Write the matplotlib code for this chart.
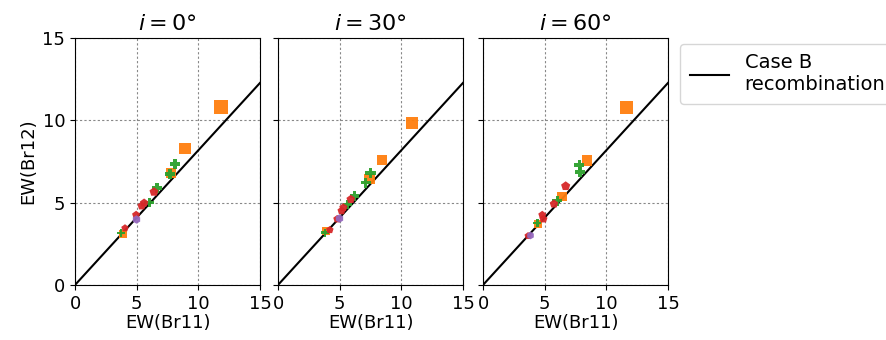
import matplotlib.pyplot as plt
import numpy as np

# EW(Br11), EW(Br12) per inclination, per marker group
incl = [0, 30, 60]

sq_x = [[11.84, 8.92, 7.79, 3.9], [10.87, 8.43, 7.42, 3.9], [11.6, 8.43, 6.4, 4.46]]
sq_y = [[10.81, 8.26, 6.80, 3.1], [9.84, 7.59, 6.44, 3.28], [10.75, 7.53, 5.36, 3.7]]

pl_x = [[8.1, 7.7, 6.65, 6.0, 3.73], [7.5, 7.1, 6.2, 5.6, 3.8], [7.8, 7.87, 6.0, 4.4]]
pl_y = [[7.35, 6.74, 5.89, 4.98, 3.16], [6.8, 6.2, 5.4, 4.9, 3.17], [7.28, 6.86, 5.1, 3.76]]

pe_x = [[6.4, 5.6, 5.4, 4.95, 4.05], [5.9, 5.3, 5.15, 4.8, 4.2], [6.7, 5.75, 4.8, 4.9, 3.65]]
pe_y = [[5.65, 4.98, 4.8, 4.25, 3.45], [5.2, 4.7, 4.5, 4.0, 3.34], [6.0, 4.92, 4.25, 4.0, 2.98]]

ci_x = [[4.95], [4.95], [3.8]]
ci_y = [[4.0], [4.07], [3.03]]

case_b_slope = 0.818


def msize(x):
    # marker area grows with the equivalent width
    return (3.6 + 0.5 * np.asarray(x)) ** 2


fig = plt.figure(figsize=(8.86, 3.4), dpi=100)
lefts = [0.0847, 0.3138, 0.5452]
w, h = 0.2088, 0.7265
for k in range(3):
    ax = fig.add_axes([lefts[k], 0.162, w, h])
    xs = np.array([0, 15])
    line, = ax.plot(xs, case_b_slope * xs, color='black', lw=1.5, zorder=2,
                    label='Case B\nrecombination')
    ax.scatter(sq_x[k], sq_y[k], s=msize(sq_x[k]), marker='s', color='#ff7f0e',
               alpha=0.95, lw=0, zorder=3)
    ax.scatter(pl_x[k], pl_y[k], s=msize(pl_x[k]), marker='P', color='#2ca02c',
               alpha=0.95, lw=0, zorder=3)
    ax.scatter(pe_x[k], pe_y[k], s=msize(pe_x[k]), marker='p', color='#d62728',
               alpha=0.95, lw=0, zorder=3)
    ax.scatter(ci_x[k], ci_y[k], s=msize(ci_x[k]), marker='h', color='#9467bd',
               alpha=0.95, lw=0, zorder=3)
    ax.set_xlim(0, 15)
    ax.set_ylim(0, 15)
    ax.set_xticks([0, 5, 10, 15])
    ax.set_yticks([0, 5, 10, 15])
    ax.grid(True, color='#888888', ls=(0, (2, 2)), lw=0.8)
    ax.tick_params(labelsize=13)
    ax.set_xlabel('EW(Br11)', fontsize=13, labelpad=1)
    ax.set_title(r'$i = %d\degree$' % incl[k], fontsize=16)
    if k == 0:
        ax.set_ylabel('EW(Br12)', fontsize=13)
    else:
        ax.set_yticklabels([])

fig.legend(handles=[line], loc='upper left', bbox_to_anchor=(0.757, 0.9),
           fontsize=14, handlelength=2.0, borderpad=0.5)

fig.savefig('out.png', dpi=100)
